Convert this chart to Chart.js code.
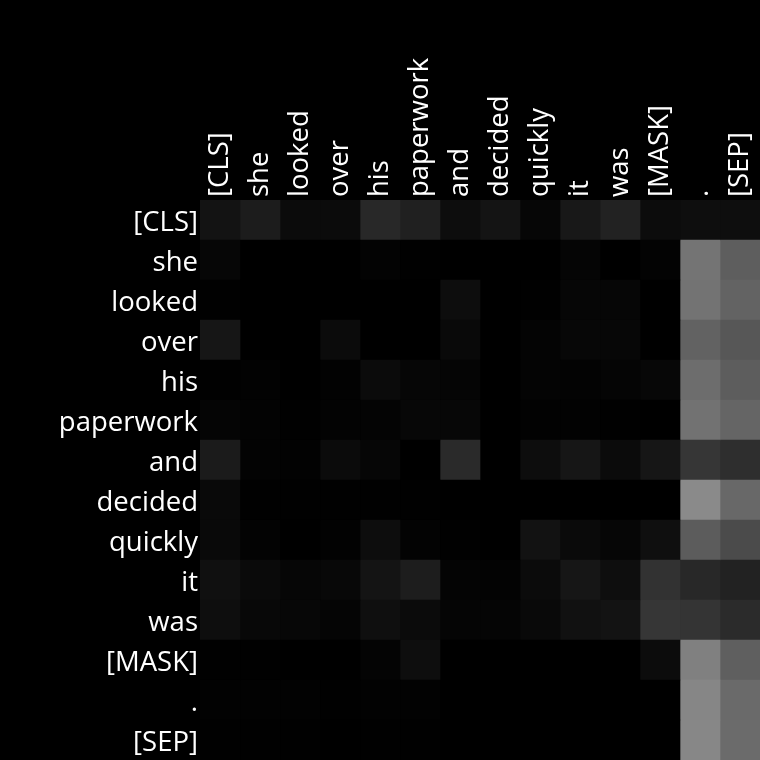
<!DOCTYPE html>
<html>
<head>
<meta charset="utf-8">
<script src="https://cdn.jsdelivr.net/npm/chart.js@4.4.1/dist/chart.umd.min.js"></script>
<style>
  html, body { margin: 0; padding: 0; background: #000; }
  #wrap { width: 760px; height: 760px; }
</style>
</head>
<body>
<div id="wrap"><canvas id="c" width="760" height="760"></canvas></div>
<script>
// Tokens (rows = query, columns = key)
const tokens = ["[CLS]", "she", "looked", "over", "his", "paperwork", "and", "decided", "quickly", "it", "was", "[MASK]", ".", "[SEP]"];

// Attention intensity per row (0-255 grey level), one array per row
const row_CLS       = [19, 28, 11, 11, 40, 32, 13, 20, 6, 24, 34, 12, 14, 14];
const row_she       = [6, 0, 0, 0, 3, 1, 0, 0, 0, 5, 0, 3, 116, 94];
const row_looked    = [1, 0, 0, 0, 0, 0, 13, 0, 1, 6, 6, 0, 115, 99];
const row_over      = [22, 0, 0, 11, 0, 0, 9, 0, 4, 7, 7, 0, 98, 87];
const row_his       = [1, 2, 0, 2, 11, 6, 5, 0, 4, 3, 5, 7, 109, 93];
const row_paperwork = [5, 3, 1, 3, 4, 7, 7, 0, 2, 2, 1, 0, 114, 101];
const row_and       = [27, 3, 2, 11, 6, 0, 42, 0, 13, 22, 11, 22, 54, 46];
const row_decided   = [9, 1, 1, 1, 1, 1, 0, 0, 0, 0, 0, 0, 138, 104];
const row_quickly   = [9, 3, 0, 2, 13, 3, 1, 0, 18, 10, 6, 15, 92, 75];
const row_it        = [16, 10, 6, 8, 20, 29, 4, 3, 11, 22, 14, 50, 40, 34];
const row_was       = [14, 8, 7, 5, 15, 11, 5, 5, 9, 17, 19, 54, 52, 43];
const row_MASK      = [1, 1, 0, 0, 4, 14, 0, 0, 0, 0, 0, 12, 128, 95];
const row_dot       = [2, 2, 2, 1, 2, 2, 0, 0, 0, 0, 0, 0, 134, 106];
const row_SEP       = [1, 1, 1, 0, 1, 1, 0, 0, 0, 0, 0, 0, 135, 107];

const matrix = [row_CLS, row_she, row_looked, row_over, row_his, row_paperwork, row_and,
                row_decided, row_quickly, row_it, row_was, row_MASK, row_dot, row_SEP];

function grey(v) { return `rgb(${v},${v},${v})`; }

// one stacked dataset per column; each cell spans one unit on the x scale
const datasets = tokens.map((tok, j) => ({
  label: tok,
  data: matrix.map(() => 1),
  backgroundColor: matrix.map(r => grey(r[j])),
  borderWidth: 0,
  barPercentage: 1,
  categoryPercentage: 1,
  borderSkipped: false
}));

const FONT = { family: "'Open Sans', 'Noto Sans', sans-serif", size: 27.5 };

new Chart(document.getElementById('c'), {
  type: 'bar',
  data: { labels: tokens, datasets },
  options: {
    indexAxis: 'y',
    responsive: false,
    animation: false,
    layout: { padding: 0 },
    plugins: { legend: { display: false }, tooltip: { enabled: false } },
    scales: {
      x: {
        type: 'linear',
        stacked: true,
        position: 'top',
        min: 0,
        max: tokens.length,
        grid: { display: false, drawTicks: false },
        border: { display: false },
        afterBuildTicks: (s) => { s.ticks = tokens.map((t, i) => ({ value: i + 0.5 })); },
        afterFit: (s) => { s.height = 200; s.paddingLeft = 0; s.paddingRight = 0; },
        ticks: {
          autoSkip: false,
          minRotation: 90,
          maxRotation: 90,
          padding: 3,
          labelOffset: 33,
          color: '#fff',
          font: FONT,
          callback: (v) => tokens[Math.floor(v)]
        }
      },
      y: {
        type: 'category',
        stacked: true,
        grid: { display: false, drawTicks: false },
        border: { display: false },
        afterFit: (s) => { s.width = 200; s.paddingTop = 0; s.paddingBottom = 0; },
        ticks: { autoSkip: false, padding: 2, labelOffset: 3, color: '#fff', font: FONT }
      }
    }
  }
});
</script>
</body>
</html>
